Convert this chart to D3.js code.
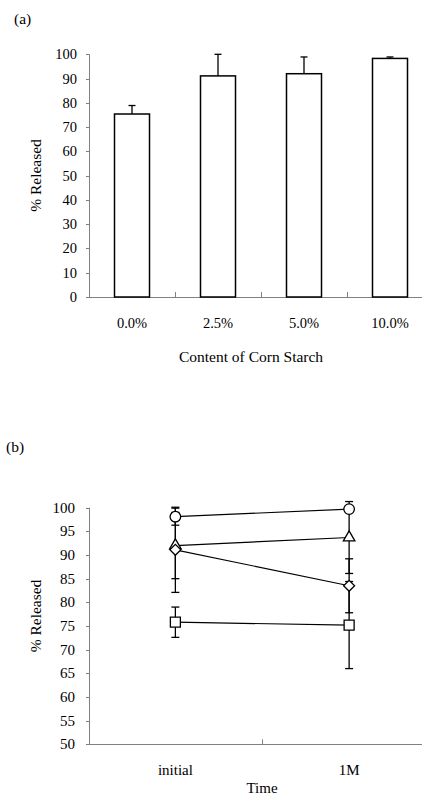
<!DOCTYPE html>
<html>
<head>
<meta charset="utf-8">
<script src="https://cdn.jsdelivr.net/npm/d3@7"></script>
<style>
    body { margin: 0; background: white; }
    svg text { font-family: "Liberation Serif", "Times New Roman", "DejaVu Serif", serif; fill: black; }
</style>
</head>
<body>
<script>
    // panel (a) data
    let starch = ["0.0%", "2.5%", "5.0%", "10.0%"];
    let released = [75.4, 91.1, 92.0, 98.3];
    let releasedErr = [3.5, 8.9, 6.9, 0.6];
    let ticksA = [0, 10, 20, 30, 40, 50, 60, 70, 80, 90, 100];

    // panel (b) data
    let times = ["initial", "1M"];
    let circleVals = [98.1, 99.7], circleErr = [1.8, 0.5];
    let triangleVals = [92.0, 93.7], triangleErr = [7.0, 7.6];
    let diamondVals = [91.1, 83.5], diamondErr = [9.0, 5.7];
    let squareVals = [75.8, 75.2], squareErr = [3.2, 9.2];
    let ticksB = [50, 55, 60, 65, 70, 75, 80, 85, 90, 95, 100];

    let axisColor = "#808080";
    let serif = "'Liberation Serif', 'Times New Roman', 'DejaVu Serif', serif";

    let svg = d3.select("body").append("svg")
        .attr("width", 422)
        .attr("height", 797)
        .attr("font-family", serif);

    // ---------- panel (a) ----------
    let ga = svg.append("g");

    let xa = d3.scaleBand().domain(starch).range([89, 433]);
    let ya = d3.scaleLinear().domain([0, 100]).range([297, 54.3]);
    let barW = 35;

    // y axis
    ga.append("line")
        .attr("x1", 89.5).attr("x2", 89.5)
        .attr("y1", ya(0)).attr("y2", ya(100))
        .attr("stroke", axisColor);
    ticksA.forEach(t => {
        ga.append("line")
            .attr("x1", 86).attr("x2", 89.5)
            .attr("y1", Math.round(ya(t)) + 0.5).attr("y2", Math.round(ya(t)) + 0.5)
            .attr("stroke", axisColor);
        ga.append("text")
            .attr("x", 77)
            .attr("y", ya(t) + 5)
            .attr("text-anchor", "end")
            .style("font-size", "14.5px")
            .text(t);
    });

    // x axis
    ga.append("line")
        .attr("x1", 89).attr("x2", 433)
        .attr("y1", ya(0) + 0.5).attr("y2", ya(0) + 0.5)
        .attr("stroke", axisColor);
    starch.slice(1).forEach(c => {
        ga.append("line")
            .attr("x1", Math.round(xa(c)) + 0.5).attr("x2", Math.round(xa(c)) + 0.5)
            .attr("y1", ya(0)).attr("y2", ya(0) - 5)
            .attr("stroke", axisColor);
    });

    // error bars (lower half hidden behind bars)
    starch.forEach((c, i) => {
        let cx = xa(c) + xa.bandwidth() / 2;
        ga.append("line")
            .attr("x1", cx).attr("x2", cx)
            .attr("y1", ya(released[i])).attr("y2", ya(released[i] + releasedErr[i]))
            .attr("stroke", "black").attr("stroke-width", 1.3);
        ga.append("line")
            .attr("x1", cx - 3.5).attr("x2", cx + 3.5)
            .attr("y1", ya(released[i] + releasedErr[i])).attr("y2", ya(released[i] + releasedErr[i]))
            .attr("stroke", "black").attr("stroke-width", 1.3);
    });

    ga.selectAll("rect.bar")
        .data(starch)
        .enter()
        .append("rect")
        .attr("x", d => xa(d) + xa.bandwidth() / 2 - barW / 2)
        .attr("y", (d, i) => ya(released[i]))
        .attr("width", barW)
        .attr("height", (d, i) => ya(0) - ya(released[i]))
        .attr("fill", "white")
        .attr("stroke", "black")
        .attr("stroke-width", 1.5);

    ga.selectAll("text.cat")
        .data(starch)
        .enter()
        .append("text")
        .attr("x", d => xa(d) + xa.bandwidth() / 2)
        .attr("y", 328)
        .attr("text-anchor", "middle")
        .style("font-size", "14.5px")
        .text(d => d);

    ga.append("text")
        .attr("x", 251).attr("y", 362)
        .attr("text-anchor", "middle")
        .style("font-size", "15.5px")
        .text("Content of Corn Starch");

    ga.append("text")
        .attr("transform", "translate(41,175.5) rotate(-90)")
        .attr("text-anchor", "middle")
        .style("font-size", "15.5px")
        .text("% Released");

    ga.append("text")
        .attr("x", 14).attr("y", 24)
        .style("font-size", "15.5px")
        .text("(a)");

    // ---------- panel (b) ----------
    let gb = svg.append("g");

    let xb = d3.scaleBand().domain(times).range([88.5, 436]);
    let yb = d3.scaleLinear().domain([50, 100]).range([744.3, 507.7]);

    gb.append("line")
        .attr("x1", 89.5).attr("x2", 89.5)
        .attr("y1", yb(50)).attr("y2", yb(100))
        .attr("stroke", axisColor);
    ticksB.forEach(t => {
        gb.append("line")
            .attr("x1", 86).attr("x2", 89.5)
            .attr("y1", Math.round(yb(t)) + 0.5).attr("y2", Math.round(yb(t)) + 0.5)
            .attr("stroke", axisColor);
        gb.append("text")
            .attr("x", 75)
            .attr("y", yb(t) + 5)
            .attr("text-anchor", "end")
            .style("font-size", "15px")
            .text(t);
    });

    gb.append("line")
        .attr("x1", 89).attr("x2", 436)
        .attr("y1", Math.round(yb(50)) + 0.5).attr("y2", Math.round(yb(50)) + 0.5)
        .attr("stroke", axisColor);
    gb.append("line")
        .attr("x1", Math.round(xb("1M")) + 0.5).attr("x2", Math.round(xb("1M")) + 0.5)
        .attr("y1", yb(50)).attr("y2", yb(50) - 5)
        .attr("stroke", axisColor);

    let series = [
        {vals: circleVals, err: circleErr, sym: d3.symbolCircle, size: 88, rot: 0},
        {vals: triangleVals, err: triangleErr, sym: d3.symbolTriangle, size: 58, rot: 0},
        {vals: diamondVals, err: diamondErr, sym: d3.symbolSquare, size: 60, rot: 45},
        {vals: squareVals, err: squareErr, sym: d3.symbolSquare, size: 100, rot: 0}
    ];

    let px = t => xb(t) + xb.bandwidth() / 2;

    // error bars
    series.forEach(s => {
        times.forEach((t, i) => {
            let lo = yb(s.vals[i] - s.err[i]), hi = yb(s.vals[i] + s.err[i]);
            gb.append("line")
                .attr("x1", px(t)).attr("x2", px(t))
                .attr("y1", lo).attr("y2", hi)
                .attr("stroke", "black").attr("stroke-width", 1.3);
            [lo, hi].forEach(y => {
                gb.append("line")
                    .attr("x1", px(t) - 4).attr("x2", px(t) + 4)
                    .attr("y1", y).attr("y2", y)
                    .attr("stroke", "black").attr("stroke-width", 1.3);
            });
        });
    });

    let line = d3.line()
        .x((d, i) => px(times[i]))
        .y(d => yb(d));

    series.forEach(s => {
        gb.append("path")
            .datum(s.vals)
            .attr("d", line)
            .attr("fill", "none")
            .attr("stroke", "black")
            .attr("stroke-width", 1.2);
    });

    series.forEach(s => {
        times.forEach((t, i) => {
            gb.append("path")
                .attr("d", d3.symbol().type(s.sym).size(s.size)())
                .attr("transform", "translate(" + px(t) + "," + yb(s.vals[i]) + ") rotate(" + s.rot + ")")
                .attr("fill", "white")
                .attr("stroke", "black")
                .attr("stroke-width", 1.3);
        });
    });

    gb.selectAll("text.cat")
        .data(times)
        .enter()
        .append("text")
        .attr("x", d => px(d))
        .attr("y", 775)
        .attr("text-anchor", "middle")
        .style("font-size", "15px")
        .text(d => d);

    gb.append("text")
        .attr("x", 262).attr("y", 793)
        .attr("text-anchor", "middle")
        .style("font-size", "15px")
        .text("Time");

    gb.append("text")
        .attr("transform", "translate(41,616) rotate(-90)")
        .attr("text-anchor", "middle")
        .style("font-size", "15.5px")
        .text("% Released");

    gb.append("text")
        .attr("x", 6).attr("y", 452)
        .style("font-size", "15.5px")
        .text("(b)");
</script>
</body>
</html>
